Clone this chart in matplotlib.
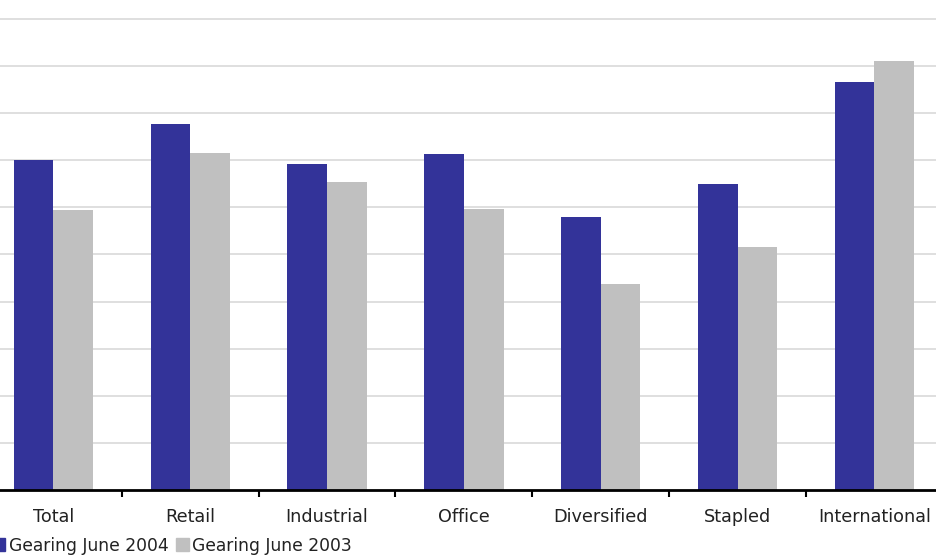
import matplotlib.pyplot as plt
import numpy as np
from matplotlib.patches import Patch

# Gearing by sector (%), June 2004 vs June 2003
sectors = ['Total', 'Retail', 'Industrial', 'Office', 'Diversified', 'Stapled', 'International']
gearing_2004 = [35.0, 38.8, 34.6, 35.7, 29.0, 32.5, 43.3]
gearing_2003 = [29.7, 35.8, 32.7, 29.8, 21.9, 25.8, 45.5]

blue = '#333399'
grey = '#c0c0c0'

fig = plt.figure(figsize=(9.37, 5.57), dpi=100)
ax = fig.add_axes([-0.016, 0.1203, 1.0222, 0.8797])

x = np.arange(len(sectors))
w = 0.29
ax.bar(x - w / 2, gearing_2004, w, color=blue, zorder=3)
ax.bar(x + w / 2, gearing_2003, w, color=grey, zorder=3)

ax.set_xlim(-0.5, len(sectors) - 0.5)
ax.set_ylim(0, 52)
ax.set_yticks(np.arange(5, 51, 5))
ax.yaxis.grid(True, color='#d6d6d6', linewidth=1.1, zorder=0)
ax.tick_params(axis='y', left=False, labelleft=False)

# category labels centred, ticks on the boundaries between groups
ax.set_xticks(x)
ax.set_xticklabels(sectors, fontsize=12.7, color='#222222')
ax.tick_params(axis='x', which='major', length=0, pad=13)
ax.set_xticks(np.arange(0.5, len(sectors) - 0.5, 1), minor=True)
ax.tick_params(axis='x', which='minor', length=5, width=1.5, color='black', direction='out')

for side in ['top', 'right', 'left']:
    ax.spines[side].set_visible(False)
ax.spines['bottom'].set_linewidth(2)
ax.spines['bottom'].set_zorder(4)

handles = [Patch(color=blue, label='Gearing June 2004'),
           Patch(color=grey, label='Gearing June 2003')]
fig.legend(handles=handles, loc='lower left', bbox_to_anchor=(-0.019, -0.014), ncol=2,
           frameon=False, fontsize=12.3, handlelength=0.75, handleheight=0.75,
           handletextpad=0.2, columnspacing=0.45, borderpad=0.1, labelcolor='#222222')

fig.savefig('out.png', dpi=100)
